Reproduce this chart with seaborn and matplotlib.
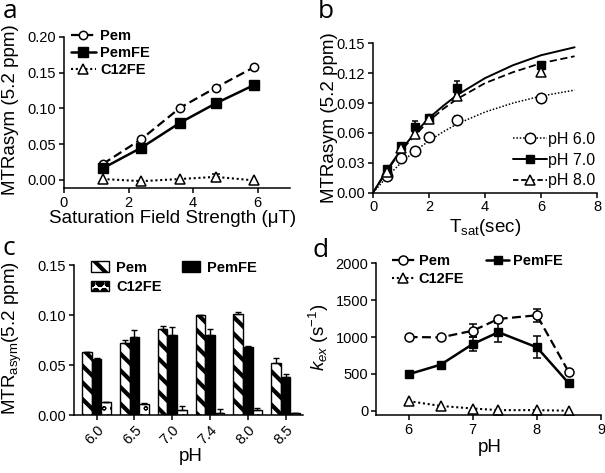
import matplotlib
matplotlib.use('Agg')
import matplotlib.pyplot as plt
import numpy as np
import pandas as pd
import seaborn as sns
from matplotlib.lines import Line2D
from matplotlib.patches import Patch

# ---------------- data ----------------
# panel a
field = [1.2, 2.4, 3.6, 4.7, 5.9]
a_pem = [0.022, 0.057, 0.101, 0.129, 0.158]
a_pemfe = [0.016, 0.045, 0.080, 0.107, 0.133]
a_c12fe = [0.001, -0.002, 0.001, 0.004, -0.001]
a_c12fe_err = [0.0, 0.0, 0.0, 0.004, 0.0]

# panel b
tsat = [0.5, 1, 1.5, 2, 3, 6]
b_ph6 = [0.017, 0.035, 0.042, 0.056, 0.073, 0.095]
b_ph6_err = [0.0, 0.0, 0.0, 0.0, 0.004, 0.002]
b_ph7 = [0.024, 0.047, 0.066, 0.075, 0.105, 0.128]
b_ph7_err = [0.002, 0.002, 0.006, 0.002, 0.007, 0.003]
b_ph8 = [0.021, 0.045, 0.059, 0.074, 0.097, 0.121]
b_ph8_err = [0.0, 0.002, 0.003, 0.002, 0.003, 0.004]
t_fit = [0, 0.5, 1, 1.5, 2, 2.5, 3, 4, 5, 6, 7.2]
fit_ph6 = [0, 0.016, 0.030, 0.042, 0.052, 0.061, 0.069, 0.081, 0.090, 0.097, 0.103]
fit_ph7 = [0, 0.023, 0.043, 0.060, 0.075, 0.087, 0.098, 0.115, 0.128, 0.138, 0.146]
fit_ph8 = [0, 0.022, 0.042, 0.058, 0.072, 0.084, 0.094, 0.110, 0.121, 0.130, 0.137]

# panel c
ph_labels = ['6.0', '6.5', '7.0', '7.4', '8.0', '8.5']
c_pem = [0.063, 0.072, 0.086, 0.100, 0.101, 0.052]
c_pem_err = [0.0005, 0.003, 0.003, 0.0005, 0.002, 0.005]
c_pemfe = [0.056, 0.078, 0.080, 0.080, 0.068, 0.038]
c_pemfe_err = [0.0015, 0.007, 0.008, 0.006, 0.0015, 0.003]
c_c12fe = [0.013, 0.011, 0.005, 0.002, 0.005, 0.002]
c_c12fe_err = [0.0003, 0.0015, 0.0045, 0.0045, 0.002, 0.0005]

# panel d
ph = [6, 6.5, 7, 7.4, 8, 8.5]
d_pem = [1000, 995, 1085, 1245, 1295, 520]
d_pem_err = [0, 0, 85, 30, 90, 25]
d_pemfe = [495, 625, 905, 1065, 860, 370]
d_pemfe_err = [0, 0, 100, 130, 150, 20]
d_c12fe = [130, 65, 30, 8, 8, 0]

# ---------------- style ----------------
sns.set_style('ticks')
plt.rcParams.update({
    'font.family': ['Liberation Sans', 'DejaVu Sans'],
    'mathtext.fontset': 'custom',
    'mathtext.rm': 'Liberation Sans',
    'mathtext.it': 'Liberation Sans:italic',
    'axes.linewidth': 1.1,
    'axes.edgecolor': 'black',
    'axes.labelcolor': 'black',
    'text.color': 'black',
    'xtick.color': 'black', 'ytick.color': 'black',
    'xtick.major.width': 1.1, 'ytick.major.width': 1.1,
    'xtick.major.size': 3.5, 'ytick.major.size': 3.5,
    'xtick.major.pad': 2, 'ytick.major.pad': 2,
    'xtick.labelsize': 10.5, 'ytick.labelsize': 10.5,
    'axes.labelsize': 13.5,
    'hatch.linewidth': 3.0,
})

W, H = 605, 473
fig = plt.figure(figsize=(W / 100, H / 100), dpi=100)


def rect(l, r, t, b):
    return [l / W, 1 - b / H, (r - l) / W, (b - t) / H]


axA = fig.add_axes(rect(64, 290, 37, 188))
axB = fig.add_axes(rect(373, 597, 43.3, 192.7))
axC = fig.add_axes(rect(74, 303, 265, 415))
axD = fig.add_axes(rect(376, 601, 263.3, 415))

DASH = (0, (4, 2))
DOT = (0, (1, 1.3))


def errs(ax, x, y, e, lower=True, cap=3, lw=1.1):
    x = np.asarray(x, float); y = np.asarray(y, float); e = np.asarray(e, float)
    m = e > 0
    if not m.any():
        return
    yerr = [e[m], e[m]] if lower else [np.zeros(m.sum()), e[m]]
    ax.errorbar(x[m], y[m], yerr=yerr, fmt='none', ecolor='k', elinewidth=lw,
                capsize=cap, capthick=lw, zorder=1)


# ---------------- panel a ----------------
dfa = pd.DataFrame({'field': field, 'Pem': a_pem, 'PemFE': a_pemfe, 'C12FE': a_c12fe})
sns.lineplot(data=dfa, x='field', y='Pem', ax=axA, color='k', lw=1.6, linestyle=DASH,
             marker='o', markersize=6, markerfacecolor='white', markeredgecolor='k',
             markeredgewidth=1.1, label='Pem')
sns.lineplot(data=dfa, x='field', y='PemFE', ax=axA, color='k', lw=1.8, linestyle='-',
             marker='s', markersize=6.5, markerfacecolor='k', markeredgecolor='k',
             markeredgewidth=1.0, label='PemFE')
errs(axA, field, a_c12fe, a_c12fe_err)
sns.lineplot(data=dfa, x='field', y='C12FE', ax=axA, color='k', lw=1.5, linestyle=DOT,
             marker='^', markersize=6.5, markerfacecolor='white', markeredgecolor='k',
             markeredgewidth=1.1, label='C12FE')
axA.set_xlim(0, 7)
axA.set_ylim(-0.0116, 0.20)
axA.set_xticks([0, 2, 4, 6])
axA.set_yticks([0, 0.05, 0.10, 0.15, 0.20])
axA.set_yticklabels(['0.00', '0.05', '0.10', '0.15', '0.20'])
axA.set_xlabel('Saturation Field Strength (\u03bcT)')
axA.set_ylabel('MTRasym (5.2 ppm)')
axA.xaxis.set_label_coords(0.48, -0.145)
axA.xaxis.label.set_va('top')
axA.yaxis.set_label_coords(-0.2, 0.52)
axA.legend(loc='upper left', bbox_to_anchor=(0.03, 1.05), frameon=False,
           prop={'weight': 'bold', 'size': 10.5}, handlelength=1.7, handletextpad=0.3,
           labelspacing=0.2, borderpad=0, borderaxespad=0)

# ---------------- panel b ----------------
sns.lineplot(x=t_fit, y=fit_ph6, ax=axB, color='k', lw=1.1, linestyle=(0, (1, 1.2)))
sns.lineplot(x=t_fit, y=fit_ph7, ax=axB, color='k', lw=1.4, linestyle='-')
sns.lineplot(x=t_fit, y=fit_ph8, ax=axB, color='k', lw=1.3, linestyle=(0, (4, 2)))
errs(axB, tsat, b_ph6, b_ph6_err, cap=2.5)
errs(axB, tsat, b_ph7, b_ph7_err, cap=2.5)
errs(axB, tsat, b_ph8, b_ph8_err, cap=2.5)
sns.lineplot(x=tsat, y=b_ph6, ax=axB, color='k', linestyle='none', marker='o', markersize=7.5,
             markerfacecolor='white', markeredgecolor='k', markeredgewidth=1.1)
sns.lineplot(x=tsat, y=b_ph7, ax=axB, color='k', linestyle='none', marker='s', markersize=5.5,
             markerfacecolor='k', markeredgecolor='k', markeredgewidth=1.0)
sns.lineplot(x=tsat, y=b_ph8, ax=axB, color='k', linestyle='none', marker='^', markersize=6.5,
             markerfacecolor='white', markeredgecolor='k', markeredgewidth=1.1)
axB.set_xlim(0, 8)
axB.set_ylim(0, 0.15)
axB.set_xticks([0, 2, 4, 6, 8])
axB.set_yticks([0, 0.03, 0.06, 0.09, 0.12, 0.15])
axB.set_yticklabels(['0.00', '0.03', '0.06', '0.09', '0.12', '0.15'])
axB.set_xlabel('T$_{\\mathrm{sat}}$(sec)')
axB.set_ylabel('MTRasym (5.2 ppm)')
axB.xaxis.set_label_coords(0.5, -0.165)
axB.xaxis.label.set_va('top')
axB.yaxis.set_label_coords(-0.155, 0.5)
hb = [Line2D([], [], color='k', lw=1.1, linestyle=(0, (1, 1.2)), marker='o', markersize=7.5,
             markerfacecolor='white', markeredgecolor='k', markeredgewidth=1.1),
      Line2D([], [], color='k', lw=1.4, linestyle='-', marker='s', markersize=5.5,
             markerfacecolor='k', markeredgecolor='k'),
      Line2D([], [], color='k', lw=1.3, linestyle=(0, (3, 1.5)), marker='^', markersize=6.5,
             markerfacecolor='white', markeredgecolor='k', markeredgewidth=1.1)]
axB.legend(hb, ['pH 6.0', 'pH 7.0', 'pH 8.0'], loc='lower right', bbox_to_anchor=(0.99, 0.03),
           frameon=False, fontsize=11.5, handlelength=2.1, handletextpad=0.05,
           labelspacing=0.35, borderpad=0, borderaxespad=0)

# ---------------- panel c ----------------
order = ['Pem', 'PemFE', 'C12FE']
dfc = pd.DataFrame({'pH': ph_labels * 3,
                    'compound': ['Pem'] * 6 + ['PemFE'] * 6 + ['C12FE'] * 6,
                    'value': c_pem + c_pemfe + c_c12fe})
sns.barplot(data=dfc, x='pH', y='value', hue='compound', order=ph_labels, hue_order=order,
            palette=['white', 'black', 'white'], saturation=1, edgecolor='black',
            linewidth=1.0, width=0.76, errorbar=None, legend=False, ax=axC)
hatch_of = {'Pem': '\\\\', 'PemFE': '', 'C12FE': 'oo'}
hlw_of = {'Pem': 3.0, 'PemFE': 1.0, 'C12FE': 0.8}
fc_of = {'Pem': 'white', 'PemFE': 'black', 'C12FE': 'white'}
for cont, name in zip(axC.containers, order):
    for p in cont:
        p.set_hatch(hatch_of[name])
        if hasattr(p, 'set_hatch_linewidth'):
            p.set_hatch_linewidth(hlw_of[name])
for cont, e in zip(axC.containers, [c_pem_err, c_pemfe_err, c_c12fe_err]):
    xs = [p.get_x() + p.get_width() / 2 for p in cont]
    ys = [p.get_height() for p in cont]
    errs(axC, xs, ys, e, lower=False, cap=2.5, lw=1.0)
axC.set_xlim(-0.6, 5.46)
axC.set_ylim(0, 0.15)
axC.set_yticks([0, 0.05, 0.10, 0.15])
axC.set_yticklabels(['0.00', '0.05', '0.10', '0.15'])
axC.set_xticks(range(len(ph_labels)))
axC.set_xticklabels(ph_labels, rotation=45, ha='right', rotation_mode='anchor')
axC.set_xlabel('pH')
axC.set_ylabel('MTR$_{\\mathrm{asym}}$(5.2 ppm)')
axC.xaxis.set_label_coords(0.51, -0.22)
axC.xaxis.label.set_va('top')
axC.yaxis.set_label_coords(-0.22, 0.51)
leg_order = ['Pem', 'C12FE', 'PemFE']
hc = []
for name in leg_order:
    pp = Patch(facecolor=fc_of[name], edgecolor='black', hatch=hatch_of[name], linewidth=1.0)
    if hasattr(pp, 'set_hatch_linewidth'):
        pp.set_hatch_linewidth(hlw_of[name])
    hc.append(pp)
axC.legend(hc, leg_order, ncol=2, loc='upper left', bbox_to_anchor=(0.075, 1.03), frameon=False,
           prop={'weight': 'bold', 'size': 10.5}, handlelength=1.25, handleheight=0.7,
           handletextpad=0.45, labelspacing=0.4, columnspacing=1.4, borderpad=0,
           borderaxespad=0)

# ---------------- panel d ----------------
dfd = pd.DataFrame({'ph': ph, 'Pem': d_pem, 'PemFE': d_pemfe, 'C12FE': d_c12fe})
errs(axD, ph, d_pem, d_pem_err)
errs(axD, ph, d_pemfe, d_pemfe_err)
sns.lineplot(data=dfd, x='ph', y='Pem', ax=axD, color='k', lw=1.6, linestyle=DASH,
             marker='o', markersize=6.5, markerfacecolor='white', markeredgecolor='k',
             markeredgewidth=1.1, label='Pem')
sns.lineplot(data=dfd, x='ph', y='C12FE', ax=axD, color='k', lw=1.5, linestyle=DOT,
             marker='^', markersize=6.5, markerfacecolor='white', markeredgecolor='k',
             markeredgewidth=1.1, label='C12FE')
sns.lineplot(data=dfd, x='ph', y='PemFE', ax=axD, color='k', lw=1.8, linestyle='-',
             marker='s', markersize=6, markerfacecolor='k', markeredgecolor='k',
             markeredgewidth=1.0, label='PemFE')
axD.set_xlim(5.49, 9)
axD.set_ylim(-58, 2000)
axD.set_xticks([6, 7, 8, 9])
axD.set_yticks([0, 500, 1000, 1500, 2000])
axD.set_xlabel('pH')
axD.set_ylabel('$k_{ex}$ (s$^{\\mathrm{-1}}$)')
axD.xaxis.set_label_coords(0.507, -0.155)
axD.xaxis.label.set_va('top')
axD.yaxis.set_label_coords(-0.2, 0.51)
axD.legend(ncol=2, loc='upper left', bbox_to_anchor=(0.07, 1.06), frameon=False,
           prop={'weight': 'bold', 'size': 10.5}, handlelength=1.6, handletextpad=0.25,
           labelspacing=0.25, columnspacing=1.5, borderpad=0, borderaxespad=0)

for ax in (axA, axB, axC, axD):
    sns.despine(ax=ax)

# panel letters
for txt, x, y in [('a', 3, 18), ('b', 318, 18), ('c', 2, 255), ('d', 313, 257)]:
    fig.text(x / W, 1 - y / H, txt, fontsize=19, family=['Open Sans', 'DejaVu Sans'],
             va='baseline', ha='left')

fig.savefig('out.png', dpi=100)
